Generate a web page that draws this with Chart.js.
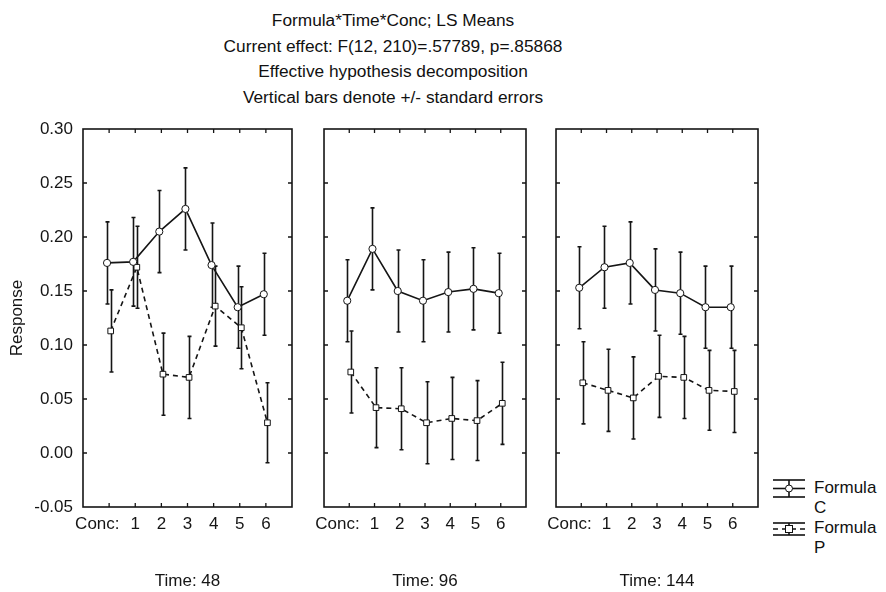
<!DOCTYPE html>
<html lang="en">
<head>
<meta charset="UTF-8">
<title>Formula*Time*Conc; LS Means</title>
<script src="https://cdn.jsdelivr.net/npm/chart.js"></script>
<style>
    body { margin: 0; width: 886px; height: 592px; position: relative; overflow: hidden; background: #fff;
           font-family: "Liberation Sans", Arial, sans-serif; color: #111; }
    .title { position: absolute; left: 0; top: 8px; width: 786px; text-align: center; font-size: 17.3px; line-height: 25.5px; }
    canvas { position: absolute; top: 0; }
    .leg-icon { position: absolute; left: 772px; }
    .leg-text { position: absolute; left: 814px; font-size: 17px; line-height: 20px; }
</style>
</head>
<body>
    <div class="title">
        Formula*Time*Conc; LS Means<br>
        Current effect: F(12, 210)=.57789, p=.85868<br>
        Effective hypothesis decomposition<br>
        Vertical bars denote +/- standard errors
    </div>

    <canvas id="p48" width="300" height="592" style="left:0px"></canvas>
    <canvas id="p96" width="227" height="592" style="left:307px"></canvas>
    <canvas id="p144" width="227" height="592" style="left:539px"></canvas>

    <!-- legend -->
    <svg class="leg-icon" style="top:477px" width="34" height="24">
        <line x1="1" y1="3" x2="33" y2="3" stroke="#111" stroke-width="1.6"/>
        <line x1="1" y1="20" x2="33" y2="20" stroke="#111" stroke-width="1.6"/>
        <line x1="17" y1="3" x2="17" y2="20" stroke="#111" stroke-width="1.6"/>
        <line x1="1" y1="11.5" x2="33" y2="11.5" stroke="#111" stroke-width="1.6"/>
        <circle cx="17" cy="11.5" r="3.5" fill="#fff" stroke="#111" stroke-width="1"/>
    </svg>
    <div class="leg-text" style="top:478px">Formula<br>C</div>
    <svg class="leg-icon" style="top:520px" width="34" height="18">
        <line x1="1" y1="3" x2="33" y2="3" stroke="#111" stroke-width="1.6"/>
        <line x1="1" y1="15" x2="33" y2="15" stroke="#111" stroke-width="1.6"/>
        <line x1="17" y1="3" x2="17" y2="15" stroke="#111" stroke-width="1.6"/>
        <line x1="1" y1="9" x2="33" y2="9" stroke="#111" stroke-width="1.6" stroke-dasharray="5,4"/>
        <rect x="13.5" y="5.5" width="7" height="7" fill="#fff" stroke="#111" stroke-width="1"/>
    </svg>
    <div class="leg-text" style="top:518px">Formula<br>P</div>

    <script>
        // categories / ticks
        const concLabels = ['Conc:', '1', '2', '3', '4', '5', '6'];
        const yTicks = [-0.05, 0.00, 0.05, 0.10, 0.15, 0.20, 0.25, 0.30];

        // LS means and standard errors, Time 48
        const c48 = [0.176, 0.177, 0.205, 0.226, 0.174, 0.135, 0.147];
        const c48se = [0.038, 0.041, 0.038, 0.038, 0.039, 0.038, 0.038];
        const p48 = [0.113, 0.172, 0.073, 0.070, 0.136, 0.116, 0.028];
        const p48se = [0.038, 0.038, 0.038, 0.038, 0.037, 0.038, 0.037];

        // Time 96
        const c96 = [0.141, 0.189, 0.150, 0.141, 0.149, 0.152, 0.148];
        const c96se = [0.038, 0.038, 0.038, 0.038, 0.037, 0.038, 0.037];
        const p96 = [0.075, 0.042, 0.041, 0.028, 0.032, 0.030, 0.046];
        const p96se = [0.038, 0.037, 0.038, 0.038, 0.038, 0.037, 0.038];

        // Time 144
        const c144 = [0.153, 0.172, 0.176, 0.151, 0.148, 0.135, 0.135];
        const c144se = [0.038, 0.038, 0.038, 0.038, 0.038, 0.038, 0.038];
        const p144 = [0.065, 0.058, 0.051, 0.071, 0.070, 0.058, 0.057];
        const p144se = [0.038, 0.038, 0.038, 0.038, 0.038, 0.037, 0.038];

        const INK = '#151515';
        Chart.defaults.font.family = '"Liberation Sans", Arial, sans-serif';
        Chart.defaults.font.size = 17;
        Chart.defaults.color = INK;

        // error bars under the markers, frame + inward ticks on top
        const panelFrame = {
            id: 'panelFrame',
            beforeDatasetsDraw(chart) {
                const { ctx, scales: { x, y } } = chart;
                ctx.save();
                ctx.strokeStyle = INK;
                ctx.lineWidth = 1.6;
                chart.data.datasets.forEach(ds => {
                    ds.data.forEach((pt, j) => {
                        const px = Math.round(x.getPixelForValue(pt.x)) + 0.5;
                        const top = y.getPixelForValue(pt.y + ds.se[j]);
                        const bot = y.getPixelForValue(pt.y - ds.se[j]);
                        ctx.beginPath();
                        ctx.moveTo(px, top); ctx.lineTo(px, bot);
                        ctx.moveTo(px - 2, top); ctx.lineTo(px + 2, top);
                        ctx.moveTo(px - 2, bot); ctx.lineTo(px + 2, bot);
                        ctx.stroke();
                    });
                });
                ctx.restore();
            },
            afterDraw(chart) {
                const { ctx, chartArea: a, scales: { x, y } } = chart;
                ctx.save();
                ctx.strokeStyle = INK;
                ctx.lineWidth = 1.6;
                ctx.strokeRect(a.left, a.top, a.right - a.left, a.bottom - a.top);
                ctx.lineWidth = 1.3;
                ctx.beginPath();
                concLabels.forEach((_, i) => {
                    const px = x.getPixelForValue(i);
                    ctx.moveTo(px, a.top); ctx.lineTo(px, a.top + 4);
                    ctx.moveTo(px, a.bottom); ctx.lineTo(px, a.bottom - 4);
                });
                yTicks.slice(1, -1).forEach(v => {
                    const py = y.getPixelForValue(v);
                    ctx.moveTo(a.left, py); ctx.lineTo(a.left + 4, py);
                    ctx.moveTo(a.right, py); ctx.lineTo(a.right - 4, py);
                });
                ctx.stroke();
                ctx.restore();
            }
        };

        function makePanel(id, time, cMeans, cSe, pMeans, pSe, first) {
            return new Chart(document.getElementById(id), {
                type: 'line',
                data: {
                    datasets: [
                        {
                            label: 'Formula C',
                            data: cMeans.map((m, i) => ({ x: i - 0.08, y: m })),
                            se: cSe,
                            borderColor: INK, borderWidth: 1.6,
                            pointStyle: 'circle', pointRadius: 3.6,
                            pointBackgroundColor: '#fff', pointBorderColor: INK, pointBorderWidth: 1
                        },
                        {
                            label: 'Formula P',
                            data: pMeans.map((m, i) => ({ x: i + 0.06, y: m })),
                            se: pSe,
                            borderColor: INK, borderWidth: 1.6, borderDash: [5, 4],
                            pointStyle: 'rect', pointRadius: 4,
                            pointBackgroundColor: '#fff', pointBorderColor: INK, pointBorderWidth: 1
                        }
                    ]
                },
                options: {
                    responsive: false,
                    animation: false,
                    layout: { padding: { top: 129, right: 8, bottom: 0, left: first ? 0 : 10 } },
                    plugins: { legend: { display: false }, tooltip: { enabled: false } },
                    scales: {
                        x: {
                            type: 'linear', min: -1, max: 7,
                            afterBuildTicks: s => { s.ticks = concLabels.map((_, i) => ({ value: i })); },
                            afterFit: s => { s.height = 85; },
                            grid: { display: false, drawTicks: false },
                            border: { display: false },
                            ticks: {
                                padding: 7, autoSkip: false, maxRotation: 0,
                                callback: v => v === 0 ? concLabels[0] + '\u00a0\u00a0\u00a0\u00a0\u00a0' : concLabels[v]
                            },
                            title: { display: true, text: 'Time: ' + time, padding: { top: 0, bottom: 0 } }
                        },
                        y: {
                            min: -0.05, max: 0.30,
                            afterBuildTicks: s => { s.ticks = yTicks.map(v => ({ value: v })); },
                            afterFit: s => { s.width = first ? 83 : 0; },
                            grid: { display: false, drawTicks: false },
                            border: { display: false },
                            ticks: { display: first, padding: 10, callback: v => v.toFixed(2) },
                            title: { display: first, text: 'Response', padding: { top: 7, bottom: 0 } }
                        }
                    }
                },
                plugins: [panelFrame]
            });
        }

        makePanel('p48', 48, c48, c48se, p48, p48se, true);
        makePanel('p96', 96, c96, c96se, p96, p96se, false);
        makePanel('p144', 144, c144, c144se, p144, p144se, false);
    </script>
</body>
</html>
